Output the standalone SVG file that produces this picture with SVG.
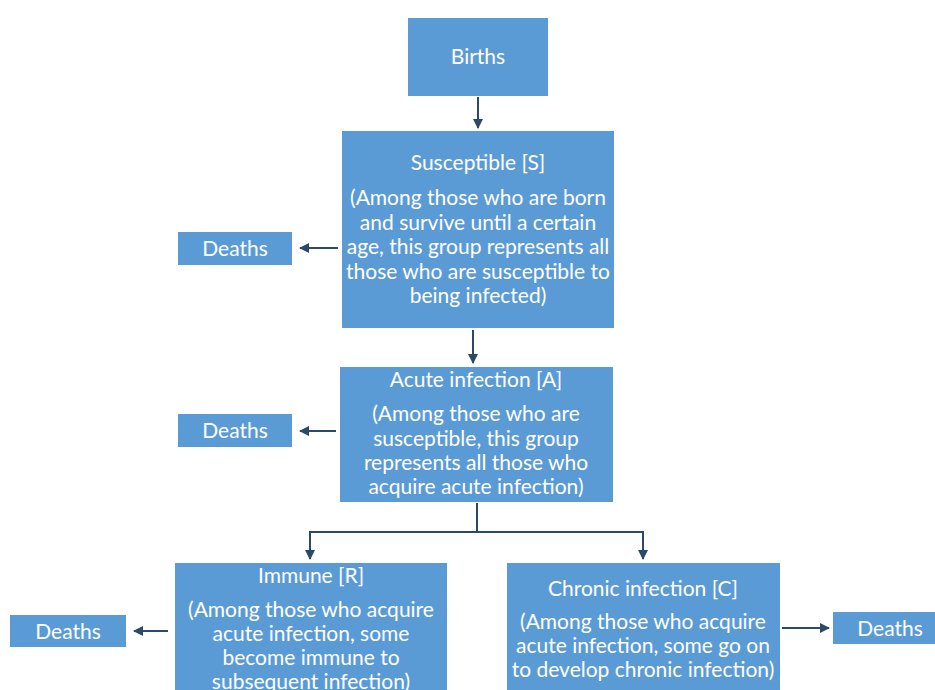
<svg xmlns="http://www.w3.org/2000/svg" width="935" height="690" viewBox="0 0 935 690">
<defs>
<style>
.box{fill:#5b9bd5;}
.t{font-family:Lato,"Open Sans","Liberation Sans",sans-serif;font-size:21px;fill:#ffffff;text-anchor:middle;}
.c{stroke:#2b4a6b;stroke-width:2;fill:none;}
</style>
<marker id="ah" viewBox="0 0 10 10" refX="9" refY="5" markerWidth="5" markerHeight="5" orient="auto" markerUnits="strokeWidth">
<path d="M0,0 L10,5 L0,10 z" fill="#2b4a6b"/>
</marker>
</defs>
<rect width="935" height="690" fill="#ffffff"/>
<g id="connectors">
<path class="c" d="M478,97 V128" marker-end="url(#ah)"/>
<path class="c" d="M338,248 H300" marker-end="url(#ah)"/>
<path class="c" d="M473,330 V363" marker-end="url(#ah)"/>
<path class="c" d="M336,431 H300" marker-end="url(#ah)"/>
<path class="c" d="M477,503 V532 H310 V559" marker-end="url(#ah)"/>
<path class="c" d="M477,532 H643 V559" marker-end="url(#ah)"/>
<path class="c" d="M168,631 H134" marker-end="url(#ah)"/>
<path class="c" d="M782,628 H829" marker-end="url(#ah)"/>
</g>
<g id="births">
<rect class="box" x="408" y="18" width="140" height="78"/>
<text class="t" x="478" y="64">Births</text>
</g>
<g id="susceptible">
<rect class="box" x="342" y="131" width="272" height="197"/>
<text class="t" x="478" y="170">Susceptible [S]</text>
<text class="t" x="478" y="205">(Among those who are born</text>
<text class="t" x="478" y="230">and survive until a certain</text>
<text class="t" x="478" y="254">age, this group represents all</text>
<text class="t" x="478" y="279">those who are susceptible to</text>
<text class="t" x="478" y="303">being infected)</text>
</g>
<g id="deaths-s">
<rect class="box" x="178" y="232" width="114" height="33"/>
<text class="t" x="235" y="256">Deaths</text>
</g>
<g id="acute">
<rect class="box" x="340" y="367" width="273" height="135"/>
<text class="t" x="476" y="387">Acute infection [A]</text>
<text class="t" x="476" y="421">(Among those who are</text>
<text class="t" x="476" y="446">susceptible, this group</text>
<text class="t" x="476" y="470">represents all those who</text>
<text class="t" x="476" y="494">acquire acute infection)</text>
</g>
<g id="deaths-a">
<rect class="box" x="178" y="414" width="114" height="33"/>
<text class="t" x="235" y="438">Deaths</text>
</g>
<g id="immune">
<rect class="box" x="175" y="563" width="272" height="135"/>
<text class="t" x="311" y="583">Immune [R]</text>
<text class="t" x="311" y="617">(Among those who acquire</text>
<text class="t" x="311" y="641">acute infection, some</text>
<text class="t" x="311" y="665">become immune to</text>
<text class="t" x="311" y="689">subsequent infection)</text>
</g>
<g id="deaths-r">
<rect class="box" x="10" y="615" width="116" height="32"/>
<text class="t" x="68" y="639">Deaths</text>
</g>
<g id="chronic">
<rect class="box" x="507" y="563" width="273" height="135"/>
<text class="t" x="643" y="596">Chronic infection [C]</text>
<text class="t" x="643" y="629">(Among those who acquire</text>
<text class="t" x="643" y="653">acute infection, some go on</text>
<text class="t" x="643" y="677">to develop chronic infection)</text>
</g>
<g id="deaths-c">
<rect class="box" x="833" y="612" width="110" height="32"/>
<text class="t" x="890" y="636">Deaths</text>
</g>
</svg>
